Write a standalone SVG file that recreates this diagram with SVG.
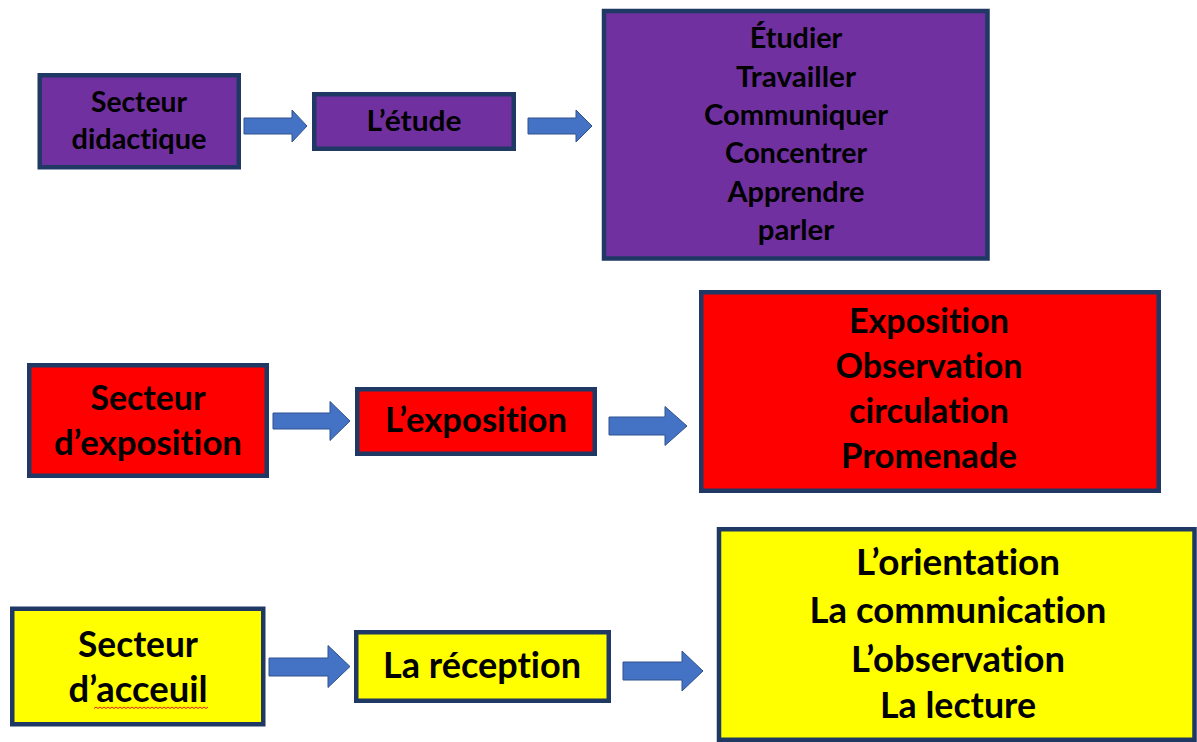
<svg xmlns="http://www.w3.org/2000/svg" width="1197" height="742" viewBox="0 0 1197 742">
<style>
.box{stroke:#1F3864;stroke-width:4.5}
.purple{fill:#7030A0}
.red{fill:#FF0000}
.yellow{fill:#FFFF00}
.t{font-family:Lato,"Open Sans","Liberation Sans",sans-serif;font-weight:bold;fill:#000;text-anchor:middle;font-variant-ligatures:none;font-feature-settings:"liga" 0,"clig" 0}
.s1{font-size:28.5px}
.s2{font-size:34px}
.s3{font-size:36px}
.arrow{fill:#4472C4;stroke:#2F528F;stroke-width:1}
</style>
<rect width="1197" height="742" fill="#FFFFFF"/>
<g id="connectors">
<path class="arrow" d="M244,118 H292 V110 L307,126 L292,142 V134 H244 Z"/>
<path class="arrow" d="M528,118 H576 V110 L592,126 L576,142 V134 H528 Z"/>
<path class="arrow" d="M273,413 H330 V401.5 L350,421 L330,440.5 V429 H273 Z"/>
<path class="arrow" d="M609,417 H665 V406.5 L687,426 L665,445.5 V435 H609 Z"/>
<path class="arrow" d="M269,658 H328 V645.5 L350,666.5 L328,687.5 V676 H269 Z"/>
<path class="arrow" d="M623,662 H682 V651 L703,671 L682,691 V680 H623 Z"/>
</g>
<g id="secteur-didactique">
<rect class="box purple" x="39.75" y="75.25" width="199" height="92"/>
<text class="t s1" x="139" y="111.7" textLength="96" lengthAdjust="spacingAndGlyphs">Secteur</text>
<text class="t s1" x="139" y="149.3" textLength="135" lengthAdjust="spacingAndGlyphs">didactique</text>
</g>
<g id="etude">
<rect class="box purple" x="314.25" y="94.25" width="199.5" height="54.5"/>
<text class="t s1" x="414" y="130.5" textLength="95" lengthAdjust="spacingAndGlyphs">L’étude</text>
</g>
<g id="etude-actions">
<rect class="box purple" x="604" y="11" width="383.5" height="247.5"/>
<text class="t s1" x="796" y="48.3" textLength="92.5" lengthAdjust="spacingAndGlyphs">Étudier</text>
<text class="t s1" x="796" y="86.6" textLength="120" lengthAdjust="spacingAndGlyphs">Travailler</text>
<text class="t s1" x="796" y="124.9" textLength="184" lengthAdjust="spacingAndGlyphs">Communiquer</text>
<text class="t s1" x="796" y="163.2" textLength="142" lengthAdjust="spacingAndGlyphs">Concentrer</text>
<text class="t s1" x="796" y="201.5" textLength="137" lengthAdjust="spacingAndGlyphs">Apprendre</text>
<text class="t s1" x="796" y="239.8" textLength="76.5" lengthAdjust="spacingAndGlyphs">parler</text>
</g>
<g id="secteur-exposition">
<rect class="box red" x="29.25" y="365.25" width="237.5" height="110.5"/>
<text class="t s2" x="148" y="410" textLength="115" lengthAdjust="spacingAndGlyphs">Secteur</text>
<text class="t s2" x="148" y="455" textLength="188" lengthAdjust="spacingAndGlyphs">d’exposition</text>
</g>
<g id="exposition">
<rect class="box red" x="357.25" y="389.25" width="237.5" height="64.5"/>
<text class="t s2" x="476" y="432" textLength="182" lengthAdjust="spacingAndGlyphs">L’exposition</text>
</g>
<g id="exposition-actions">
<rect class="box red" x="701.25" y="292.25" width="457.5" height="198.5"/>
<text class="t s2" x="929" y="333.3" textLength="160" lengthAdjust="spacingAndGlyphs">Exposition</text>
<text class="t s2" x="929" y="378.3" textLength="187" lengthAdjust="spacingAndGlyphs">Observation</text>
<text class="t s2" x="929" y="423.3" textLength="160" lengthAdjust="spacingAndGlyphs">circulation</text>
<text class="t s2" x="929" y="467.5" textLength="176" lengthAdjust="spacingAndGlyphs">Promenade</text>
</g>
<g id="secteur-accueil">
<rect class="box yellow" x="12.25" y="608.75" width="251" height="115.5"/>
<text class="t s3" x="138" y="656.7" textLength="120" lengthAdjust="spacingAndGlyphs">Secteur</text>
<text class="t s3" x="138" y="702.3" textLength="139" lengthAdjust="spacingAndGlyphs">d’acceuil</text>
<path d="M94,708.5 l2,-1.5 l2,1.5 l2,-1.5 l2,1.5 l2,-1.5 l2,1.5 l2,-1.5 l2,1.5 l2,-1.5 l2,1.5 l2,-1.5 l2,1.5 l2,-1.5 l2,1.5 l2,-1.5 l2,1.5 l2,-1.5 l2,1.5 l2,-1.5 l2,1.5 l2,-1.5 l2,1.5 l2,-1.5 l2,1.5 l2,-1.5 l2,1.5 l2,-1.5 l2,1.5 l2,-1.5 l2,1.5 l2,-1.5 l2,1.5 l2,-1.5 l2,1.5 l2,-1.5 l2,1.5 l2,-1.5 l2,1.5 l2,-1.5 l2,1.5 l2,-1.5 l2,1.5 l2,-1.5 l2,1.5 l2,-1.5 l2,1.5 l2,-1.5 l2,1.5 l2,-1.5 l2,1.5 l2,-1.5 l2,1.5 l2,-1.5 l2,1.5 l2,-1.5 l2,1.5 l2,-1.5" fill="none" stroke="#E02020" stroke-width="1"/>
</g>
<g id="reception">
<rect class="box yellow" x="356.25" y="632.25" width="252.5" height="68.5"/>
<text class="t s3" x="482" y="678.3" textLength="198" lengthAdjust="spacingAndGlyphs">La réception</text>
</g>
<g id="accueil-actions">
<rect class="box yellow" x="719" y="529.25" width="475.5" height="210.5"/>
<text class="t s3" x="958" y="575" textLength="204" lengthAdjust="spacingAndGlyphs">L’orientation</text>
<text class="t s3" x="958" y="623.3" textLength="297" lengthAdjust="spacingAndGlyphs">La communication</text>
<text class="t s3" x="958" y="671.7" textLength="214" lengthAdjust="spacingAndGlyphs">L’observation</text>
<text class="t s3" x="958" y="718.3" textLength="156" lengthAdjust="spacingAndGlyphs">La lecture</text>
</g>
</svg>
